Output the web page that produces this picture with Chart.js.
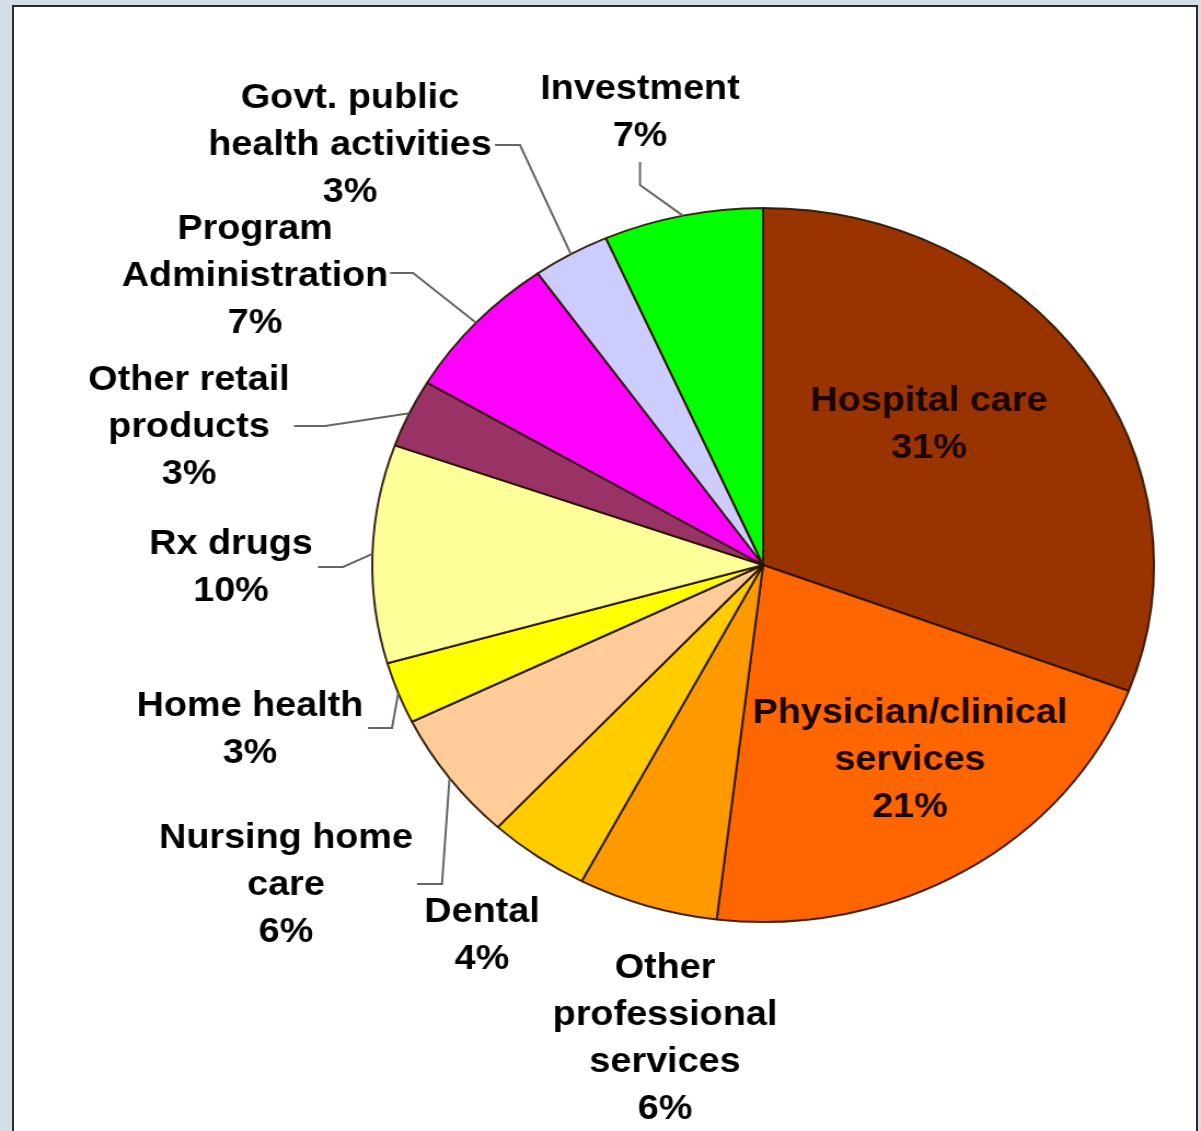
<!DOCTYPE html>
<html>
<head>
<meta charset="utf-8">
<script src="https://cdn.jsdelivr.net/npm/chart.js@4.4.1/dist/chart.umd.min.js"></script>
<style>
  html, body { margin: 0; padding: 0; overflow: hidden; background: #d3dee7; }
  #frame {
    position: absolute; left: 12px; top: 5px;
    width: 1182px; height: 1140px;
    background: #fff;
    border: 2px solid #2b2b2b; border-bottom: none;
  }
  #myChart { position: absolute; left: 0; top: 0; }
</style>
</head>
<body>
<div id="frame"></div>
<!-- the source picture is stretched sideways, so the canvas is too -->
<canvas id="myChart" width="1097" height="1131" style="width:1201px;height:1131px"></canvas>
<script>
var categories = [
    "Hospital care",
    "Physician/clinical\nservices",
    "Other\nprofessional\nservices",
    "Dental",
    "Nursing home\ncare",
    "Home health",
    "Rx drugs",
    "Other retail\nproducts",
    "Program\nAdministration",
    "Govt. public\nhealth activities",
    "Investment"
];
// share of spending, % (labels show them rounded)
var shares = [30.8, 21.2, 5.8, 4.2, 5.9, 2.8, 9.9, 3.1, 6.7, 3.2, 6.6];
var sliceColors = [
    "#993300",
    "#ff6600",
    "#ff9900",
    "#ffcc00",
    "#ffcc99",
    "#ffff00",
    "#ffff99",
    "#993366",
    "#ff00ff",
    "#ccccff",
    "#00ff00"
];

var sx = 1201 / 1097;   // css px per canvas px, horizontally

// label placement in page px: centre x, first line y, leader line start + knee
var labelLayout = [
    { x: 929, y: 401, inside: true },
    { x: 910, y: 713, inside: true },
    { x: 665, y: 968 },
    { x: 482, y: 912 },
    { x: 286, y: 838, line: [417, 884, 442, 884] },
    { x: 250, y: 706, line: [368, 728, 392, 728] },
    { x: 231, y: 544, line: [318, 567, 343, 567] },
    { x: 189, y: 380, line: [294, 426, 325, 426] },
    { x: 255, y: 229, line: [390, 273, 413, 273] },
    { x: 350, y: 98,  line: [495, 145, 520, 145] },
    { x: 640, y: 89,  line: [640, 162, 640, 185] }
];

var sliceLabels = {
    id: "sliceLabels",
    afterDatasetsDraw: function (chart) {
        var ctx = chart.ctx;
        var arcs = chart.getDatasetMeta(0).data;
        ctx.save();
        arcs.forEach(function (arc, i) {
            var lay = labelLayout[i];
            if (lay.line) {
                var mid = (arc.startAngle + arc.endAngle) / 2;
                ctx.beginPath();
                ctx.moveTo(lay.line[0] / sx, lay.line[1]);
                ctx.lineTo(lay.line[2] / sx, lay.line[3]);
                ctx.lineTo(arc.x + Math.cos(mid) * arc.outerRadius,
                           arc.y + Math.sin(mid) * arc.outerRadius);
                ctx.strokeStyle = "#666";
                ctx.lineWidth = 2;
                ctx.stroke();
            }
            var lines = categories[i].split("\n");
            lines.push(Math.round(shares[i]) + "%");
            ctx.font = "bold 34.5px 'Liberation Sans', Arial, sans-serif";
            ctx.textAlign = "center";
            ctx.textBaseline = "middle";
            ctx.fillStyle = lay.inside ? "#1a0500" : "#000";
            lines.forEach(function (t, j) {
                ctx.fillText(t, lay.x / sx, lay.y + j * 47);
            });
        });
        ctx.restore();
    }
};

new Chart("myChart", {
    type: "pie",
    data: {
        labels: categories.map(function (c) { return c.replace("\n", " "); }),
        datasets: [{
            data: shares,
            backgroundColor: sliceColors,
            borderColor: "rgba(40,20,0,0.9)",
            borderWidth: 2
        }]
    },
    options: {
        responsive: false,
        animation: false,
        devicePixelRatio: 1,
        radius: 357,
        layout: { padding: { left: 297, right: 0, top: 0, bottom: 1 } },
        plugins: {
            legend: { display: false },
            tooltip: { enabled: false }
        }
    },
    plugins: [sliceLabels]
});
</script>
</body>
</html>
